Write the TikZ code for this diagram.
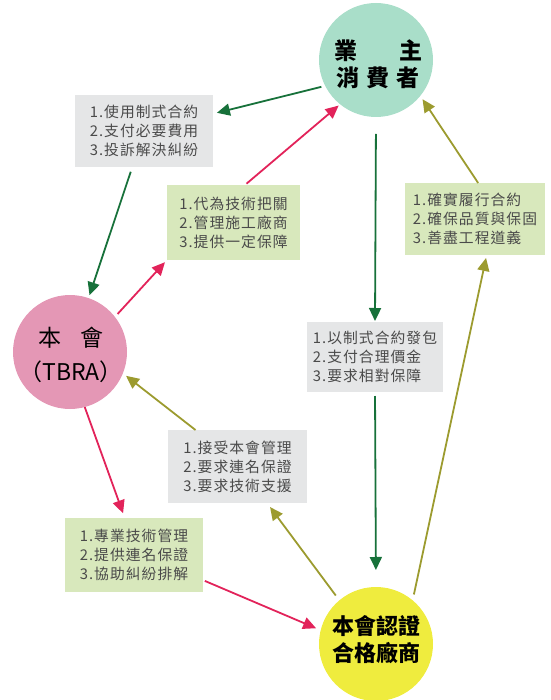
\documentclass[tikz,border=0pt]{standalone}
\usepackage{fontspec}
\usetikzlibrary{arrows.meta}
\newfontfamily\cjk{Noto Sans CJK TC}
\newfontfamily\boxfont{Noto Sans CJK TC}[LetterSpace=7]
\newfontfamily\topfont{Noto Sans CJK TC}[LetterSpace=30]
\definecolor{mint}{HTML}{A9DEC9}
\definecolor{pinkc}{HTML}{E497B5}
\definecolor{yellowc}{HTML}{EFEC3E}
\definecolor{grayb}{HTML}{E5E6E7}
\definecolor{greenb}{HTML}{D8E8BC}
\definecolor{darkg}{HTML}{17713A}
\definecolor{redc}{HTML}{E2235A}
\definecolor{olive}{HTML}{9C9B2F}
\definecolor{txtg}{HTML}{4A4A4A}
\tikzset{
  circ/.style={circle, minimum size=114pt, inner sep=0pt, outer sep=0pt, align=center, text=black},
  infobox/.style={rectangle, inner sep=0pt, outer sep=0pt, align=left, text=txtg,
     font=\boxfont\fontsize{14.8}{19}\selectfont},
  graybox/.style={infobox, fill=grayb},
  greenbox/.style={infobox, fill=greenb},
  arr/.style={line width=1.8pt, -{Triangle[length=13pt,width=12pt]}},
}
\begin{document}
\begin{tikzpicture}[x=1pt,y=-1pt]
\useasboundingbox (0,0) rectangle (550,700);
% circles
\node[circ, fill=mint] (top) at (376,60) {};
\node[font=\topfont\bfseries\fontsize{23}{27}\selectfont, align=center] (toptxt) at (378,64)
   {\makebox[88pt][s]{業\hfill 主}\\消費者};
\node[circ, fill=pinkc] (tbra) at (70,352) {};
\node[font=\cjk\fontsize{23}{34}\selectfont, align=center] (tbratxt) at (71,355)
   {本\hspace{19pt}會\\（TBRA）};
\node[circ, fill=yellowc] (bot) at (376,644) {};
\node[font=\cjk\bfseries\fontsize{22}{27}\selectfont, align=center] (bottxt) at (376,640)
   {本會認證\\合格廠商};
% boxes
\node[graybox, minimum width=138pt, minimum height=72pt] (b1) at (144,131)
   {1.使用制式合約\\2.支付必要費用\\3.投訴解決糾紛};
\node[greenbox, minimum width=133pt, minimum height=75pt] (b2) at (233.5,222.5)
   {1.代為技術把關\\2.管理施工廠商\\3.提供一定保障};
\node[greenbox, minimum width=140pt, minimum height=72pt] (b3) at (475,219)
   {1.確實履行合約\\2.確保品質與保固\\3.善盡工程道義};
\node[graybox, minimum width=136pt, minimum height=70pt] (b4) at (375,357)
   {1.以制式合約發包\\2.支付合理價金\\3.要求相對保障};
\node[graybox, minimum width=139pt, minimum height=73pt] (b5) at (237.5,466.5)
   {1.接受本會管理\\2.要求連名保證\\3.要求技術支援};
\node[greenbox, minimum width=138pt, minimum height=74pt] (b6) at (134,555)
   {1.專業技術管理\\2.提供連名保證\\3.協助糾紛排解};
% connectors
\draw[arr, darkg, shorten <=4pt, shorten >=4pt] (top.207) -- (b1.14);
\draw[arr, darkg, shorten <=5pt, shorten >=3pt] (b1.252) -- (tbra.71);
\draw[arr, redc, shorten <=4pt, shorten >=3pt] (tbra.38) -- (b2.south west);
\draw[arr, redc, shorten <=2pt, shorten >=2pt] (b2.73) -- (top.231);
\draw[arr, darkg, shorten <=17pt, shorten >=1pt] (top.south) -- (b4.north);
\draw[arr, darkg, shorten <=4pt, shorten >=17pt] (b4.south) -- (bot.north);
\draw[arr, olive, shorten <=6pt, shorten >=3pt] (bot.50) -- (b3.288);
\draw[arr, olive, shorten <=0pt, shorten >=4pt] (b3.85) -- (top.321);
\draw[arr, olive, shorten <=6pt, shorten >=5pt] (bot.130) -- (b5.309);
\draw[arr, olive, shorten <=0pt, shorten >=4pt] (b5.139) -- (tbra.338);
\draw[arr, redc, shorten <=0pt, shorten >=5pt] (tbra.285) -- (b6.104);
\draw[arr, redc, shorten <=2pt, shorten >=5pt] (b6.340) -- (bot.166);
\end{tikzpicture}
\end{document}
